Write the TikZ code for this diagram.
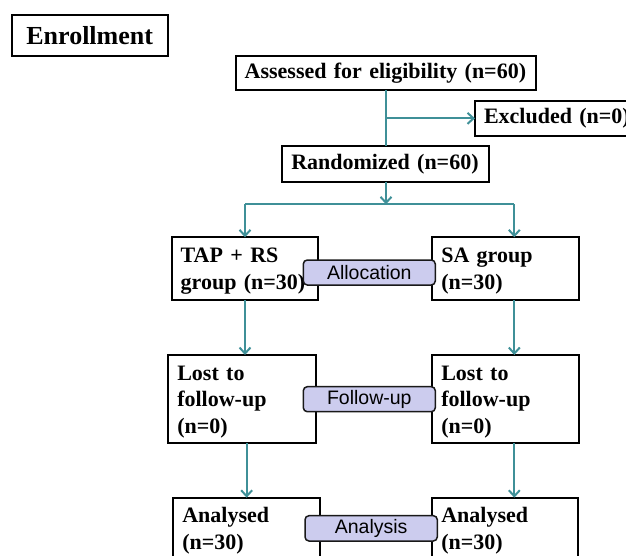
\documentclass[tikz,border=0pt]{standalone}
\usepackage{fontspec}
\setmainfont{Liberation Serif}
\newfontfamily\labfont{Liberation Sans}
\usetikzlibrary{arrows.meta}
\definecolor{teal1}{RGB}{63,144,152}
\definecolor{lav}{RGB}{204,204,238}
\begin{document}
\begin{tikzpicture}[x=1pt,y=-1pt,
  box/.style={draw=black,line width=2pt,anchor=north west,inner xsep=9pt,inner ysep=0pt,outer sep=0pt,
    align=left,font=\fontsize{22}{26.5}\selectfont\bfseries},
  down/.style={execute at begin node={\rule{0pt}{#1}}},
  lab/.style={draw=black!90,line width=1.5pt,fill=lav,rounded corners=4pt,anchor=north west,
    inner sep=0pt,outer sep=0pt,align=center,font=\fontsize{19.5}{22}\selectfont\labfont},
  conn/.style={draw=teal1,line width=2pt},
  arr/.style={conn,-{Straight Barb[length=6pt,width=11pt,line width=2pt]}}]
\useasboundingbox (0,0) rectangle (626,556);
\clip (0,0) rectangle (626,556);
% boxes
\node[box,minimum width=156pt,minimum height=41pt,align=center,inner xsep=0pt,text width=156pt,
  font=\fontsize{26}{29}\selectfont\bfseries] (enroll) at (11.7,15) {Enrollment};
\node[box,minimum width=300.3pt,minimum height=34.8pt,text width=282.3pt] (assess) at (235.7,55.7) {Assessed for eligibility (n=60)};
\node[box,minimum width=170pt,minimum height=34.7pt,text width=152pt] (excl) at (475,101) {Excluded (n=0)};
\node[box,minimum width=206.7pt,minimum height=35.7pt,text width=188.7pt] (rand) at (282.3,146) {Randomized (n=60)};
\node[box,down=19.5pt,minimum width=146.6pt,minimum height=62.7pt,text width=128.6pt] (tap) at (171.7,237.3) {TAP + RS\\group (n=30)};
\node[box,down=19.5pt,minimum width=146.7pt,minimum height=62.7pt,text width=128.7pt] (sa) at (432.3,237.3) {SA group\\(n=30)};
\node[box,down=19.5pt,minimum width=147.4pt,minimum height=88.3pt,text width=129.4pt] (lostL) at (168.3,355) {Lost to\\follow-up\\(n=0)};
\node[box,down=19.5pt,minimum width=146.7pt,minimum height=88.3pt,text width=128.7pt] (lostR) at (432.3,355) {Lost to\\follow-up\\(n=0)};
\node[box,down=23pt,minimum width=146.7pt,minimum height=88pt,text width=128.7pt] (anaL) at (173.3,497.7) {Analysed\\(n=30)\\\strut};
\node[box,down=23pt,minimum width=145.4pt,minimum height=88pt,text width=127.4pt,inner xsep=8pt] (anaR) at (432.3,497.7) {Analysed\\(n=30)\\\strut};
% labels
\node[lab,minimum width=132pt,minimum height=25pt] (alloc) at (303.3,260) {Allocation};
\node[lab,minimum width=132pt,minimum height=25pt] (follow) at (303.3,386.7) {Follow-up};
\node[lab,minimum width=132.3pt,minimum height=25.3pt] (analysis) at (305,515.7) {Analysis};
% connectors
\coordinate (br) at (386,118.35);
\coordinate (sp) at (386,204.3);
\coordinate (jL) at (245,204.3);
\coordinate (jR) at (514.3,204.3);
\draw[conn] (assess.south -| br) -- (rand.north -| br);
\draw[arr] (br) -- (br -| excl.west);
\draw[arr] (rand.south -| sp) -- (sp);
\draw[conn] (jL) -- (jR);
\draw[arr] (jL) -- (jL |- tap.north);
\draw[arr] (jR) -- (jR |- sa.north);
\draw[arr] (jL |- tap.south) -- (jL |- lostL.north);
\draw[arr] (jR |- sa.south) -- (jR |- lostR.north);
\draw[arr] (anaL.north |- lostL.south) -- (anaL.north);
\draw[arr] (jR |- lostR.south) -- (jR |- anaR.north);
\end{tikzpicture}
\end{document}
